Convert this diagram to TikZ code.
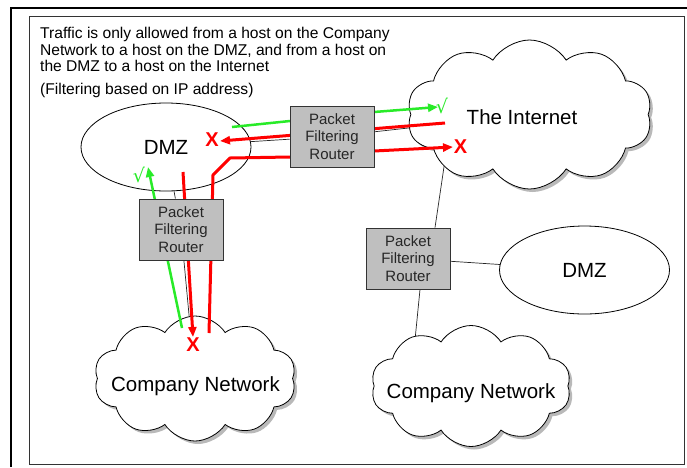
\documentclass[tikz,border=0pt]{standalone}
\usepackage{fontspec}
\setmainfont{Liberation Sans}
\newfontfamily\djv{DejaVu Sans}
\usetikzlibrary{shapes.geometric,shapes.symbols,shadows,arrows.meta}
\definecolor{fgreen}{RGB}{40,235,40}
\definecolor{fred}{RGB}{255,0,0}
\pgfdeclarelayer{bglayer}
\pgfdeclarelayer{connlayer}
\pgfdeclarelayer{shapelayer}
\pgfdeclarelayer{flowlayer}
\pgfsetlayers{bglayer,connlayer,shapelayer,flowlayer,main}
\begin{document}
\begin{tikzpicture}[x=1pt,y=-1pt,
  router/.style={draw=black!80, line width=0.8pt, fill=black!25, minimum width=84pt, minimum height=61pt, inner sep=0pt, align=center, font=\fontsize{15}{17.5}\selectfont, text=black!85},
  netcloud/.style={cloud, cloud puffs=10, cloud puff arc=115, cloud ignores aspect, draw=black, line width=0.8pt, fill=white, inner sep=0pt, drop shadow={shadow xshift=3pt, shadow yshift=-3pt, opacity=0.55}},
  dmzell/.style={ellipse, draw=black, line width=0.8pt, fill=white, minimum width=170pt, minimum height=88pt, inner sep=0pt, font=\fontsize{20.5}{24}\selectfont},
  biglabel/.style={font=\fontsize{20.5}{24}\selectfont, inner sep=0pt, anchor=base},
  conn/.style={line width=0.7pt, black!85},
  redline/.style={line width=3pt, fred, -{Triangle[length=10pt,width=8pt]}},
  greenline/.style={line width=2.5pt, fgreen, -{Triangle[length=10pt,width=8pt]}},
  xmark/.style={text=fred, font=\fontsize{20}{20}\selectfont\bfseries, inner sep=0pt},
  okmark/.style={text=fgreen, font=\djv\fontsize{19}{19}\selectfont, inner sep=0pt}
]
\useasboundingbox (0,0) rectangle (687,467);
\begin{pgfonlayer}{bglayer}
\fill[white] (0,0) rectangle (687,467);
\end{pgfonlayer}
\draw[line width=2.5pt] (11,467) -- (11,8) -- (687,8);
\draw[line width=0.9pt, black!80] (29,16) rectangle (684,464);

% header text
\node[anchor=north west, align=left, inner sep=0pt, font=\fontsize{15.6}{16.4}\selectfont] (hdr) at (40,27.4)
  {Traffic is only allowed from a host on the Company\\Network to a host on the DMZ, and from a host on\\the DMZ to a host on the Internet};
\node[anchor=base west, inner sep=0pt, font=\fontsize{15.6}{16.4}\selectfont] (note) at (40,94) {(Filtering based on IP address)};

% networks
\begin{pgfonlayer}{shapelayer}
\node[dmzell] (dmzL) at (166,147) {DMZ};
\node[dmzell] (dmzR) at (584.5,270) {DMZ};
\node[netcloud, minimum width=245pt, minimum height=149pt] (inet) at (529.5,114.5) {};
\node[netcloud, minimum width=202pt, minimum height=125pt] (compL) at (195,378.5) {};
\node[netcloud, minimum width=200pt, minimum height=121pt] (compR) at (471,386) {};
\end{pgfonlayer}
\node[biglabel] (inetlbl) at (522,124) {The Internet};
\node[biglabel] (compLlbl) at (195.5,391) {Company Network};
\node[biglabel] (compRlbl) at (471,398) {Company Network};

% routers
\node[router] (rT) at (332,136.5) {Packet\\Filtering\\Router};
\node[router] (rL) at (181,229.5) {Packet\\Filtering\\Router};
\node[router] (rR) at (408,258.5) {Packet\\Filtering\\Router};

% plain connectors
\coordinate (inetLow) at (445,160);
\coordinate (compRtop) at (414,350);
\begin{pgfonlayer}{connlayer}
\draw[conn] (dmzL) -- (rT) -- (inet);
\draw[conn] (dmzL) -- (rL) -- (compL);
\draw[conn] ([xshift=27pt]rR.north) -- (inetLow);
\draw[conn] (rR) -- (dmzR);
\draw[conn] ([xshift=12pt]rR.south) -- (compRtop);
\end{pgfonlayer}

% traffic flows
\coordinate (g1s) at (232,127);
\coordinate (g1a) at (290,121);
\coordinate (g1b) at (374,112);
\coordinate (g1e) at (438,107);
\coordinate (r1s) at (445,123);
\coordinate (r1e) at (220,141);
\coordinate (r2s) at (209,333);
\coordinate (r2a) at (213,175);
\coordinate (r2b) at (230,158);
\coordinate (r2c) at (290,157);
\coordinate (r2d) at (374,151);
\coordinate (r2e) at (453,147);
\coordinate (g2s) at (182,328);
\coordinate (g2e) at (148,167);
\coordinate (r3s) at (183,172);
\coordinate (r3e) at (193,337);
\begin{pgfonlayer}{flowlayer}
\draw[greenline] (g1s) -- (g1a) -- (g1b) -- (g1e);
\draw[redline] (r1s) -- (r1e);
\draw[redline] (r2s) -- (r2a) -- (r2b) -- (r2c) -- (r2d) -- (r2e);
\draw[greenline] (g2s) -- (g2e);
\draw[redline] (r3s) -- (r3e);
\end{pgfonlayer}

% marks
\node[xmark] (x1) at (212,140) {X};
\node[xmark] (x2) at (460.5,146.5) {X};
\node[xmark] (x3) at (193,345) {X};
\node[okmark] (ok1) at (442,106) {√};
\node[okmark] (ok2) at (139,175) {√};
\end{tikzpicture}
\end{document}
